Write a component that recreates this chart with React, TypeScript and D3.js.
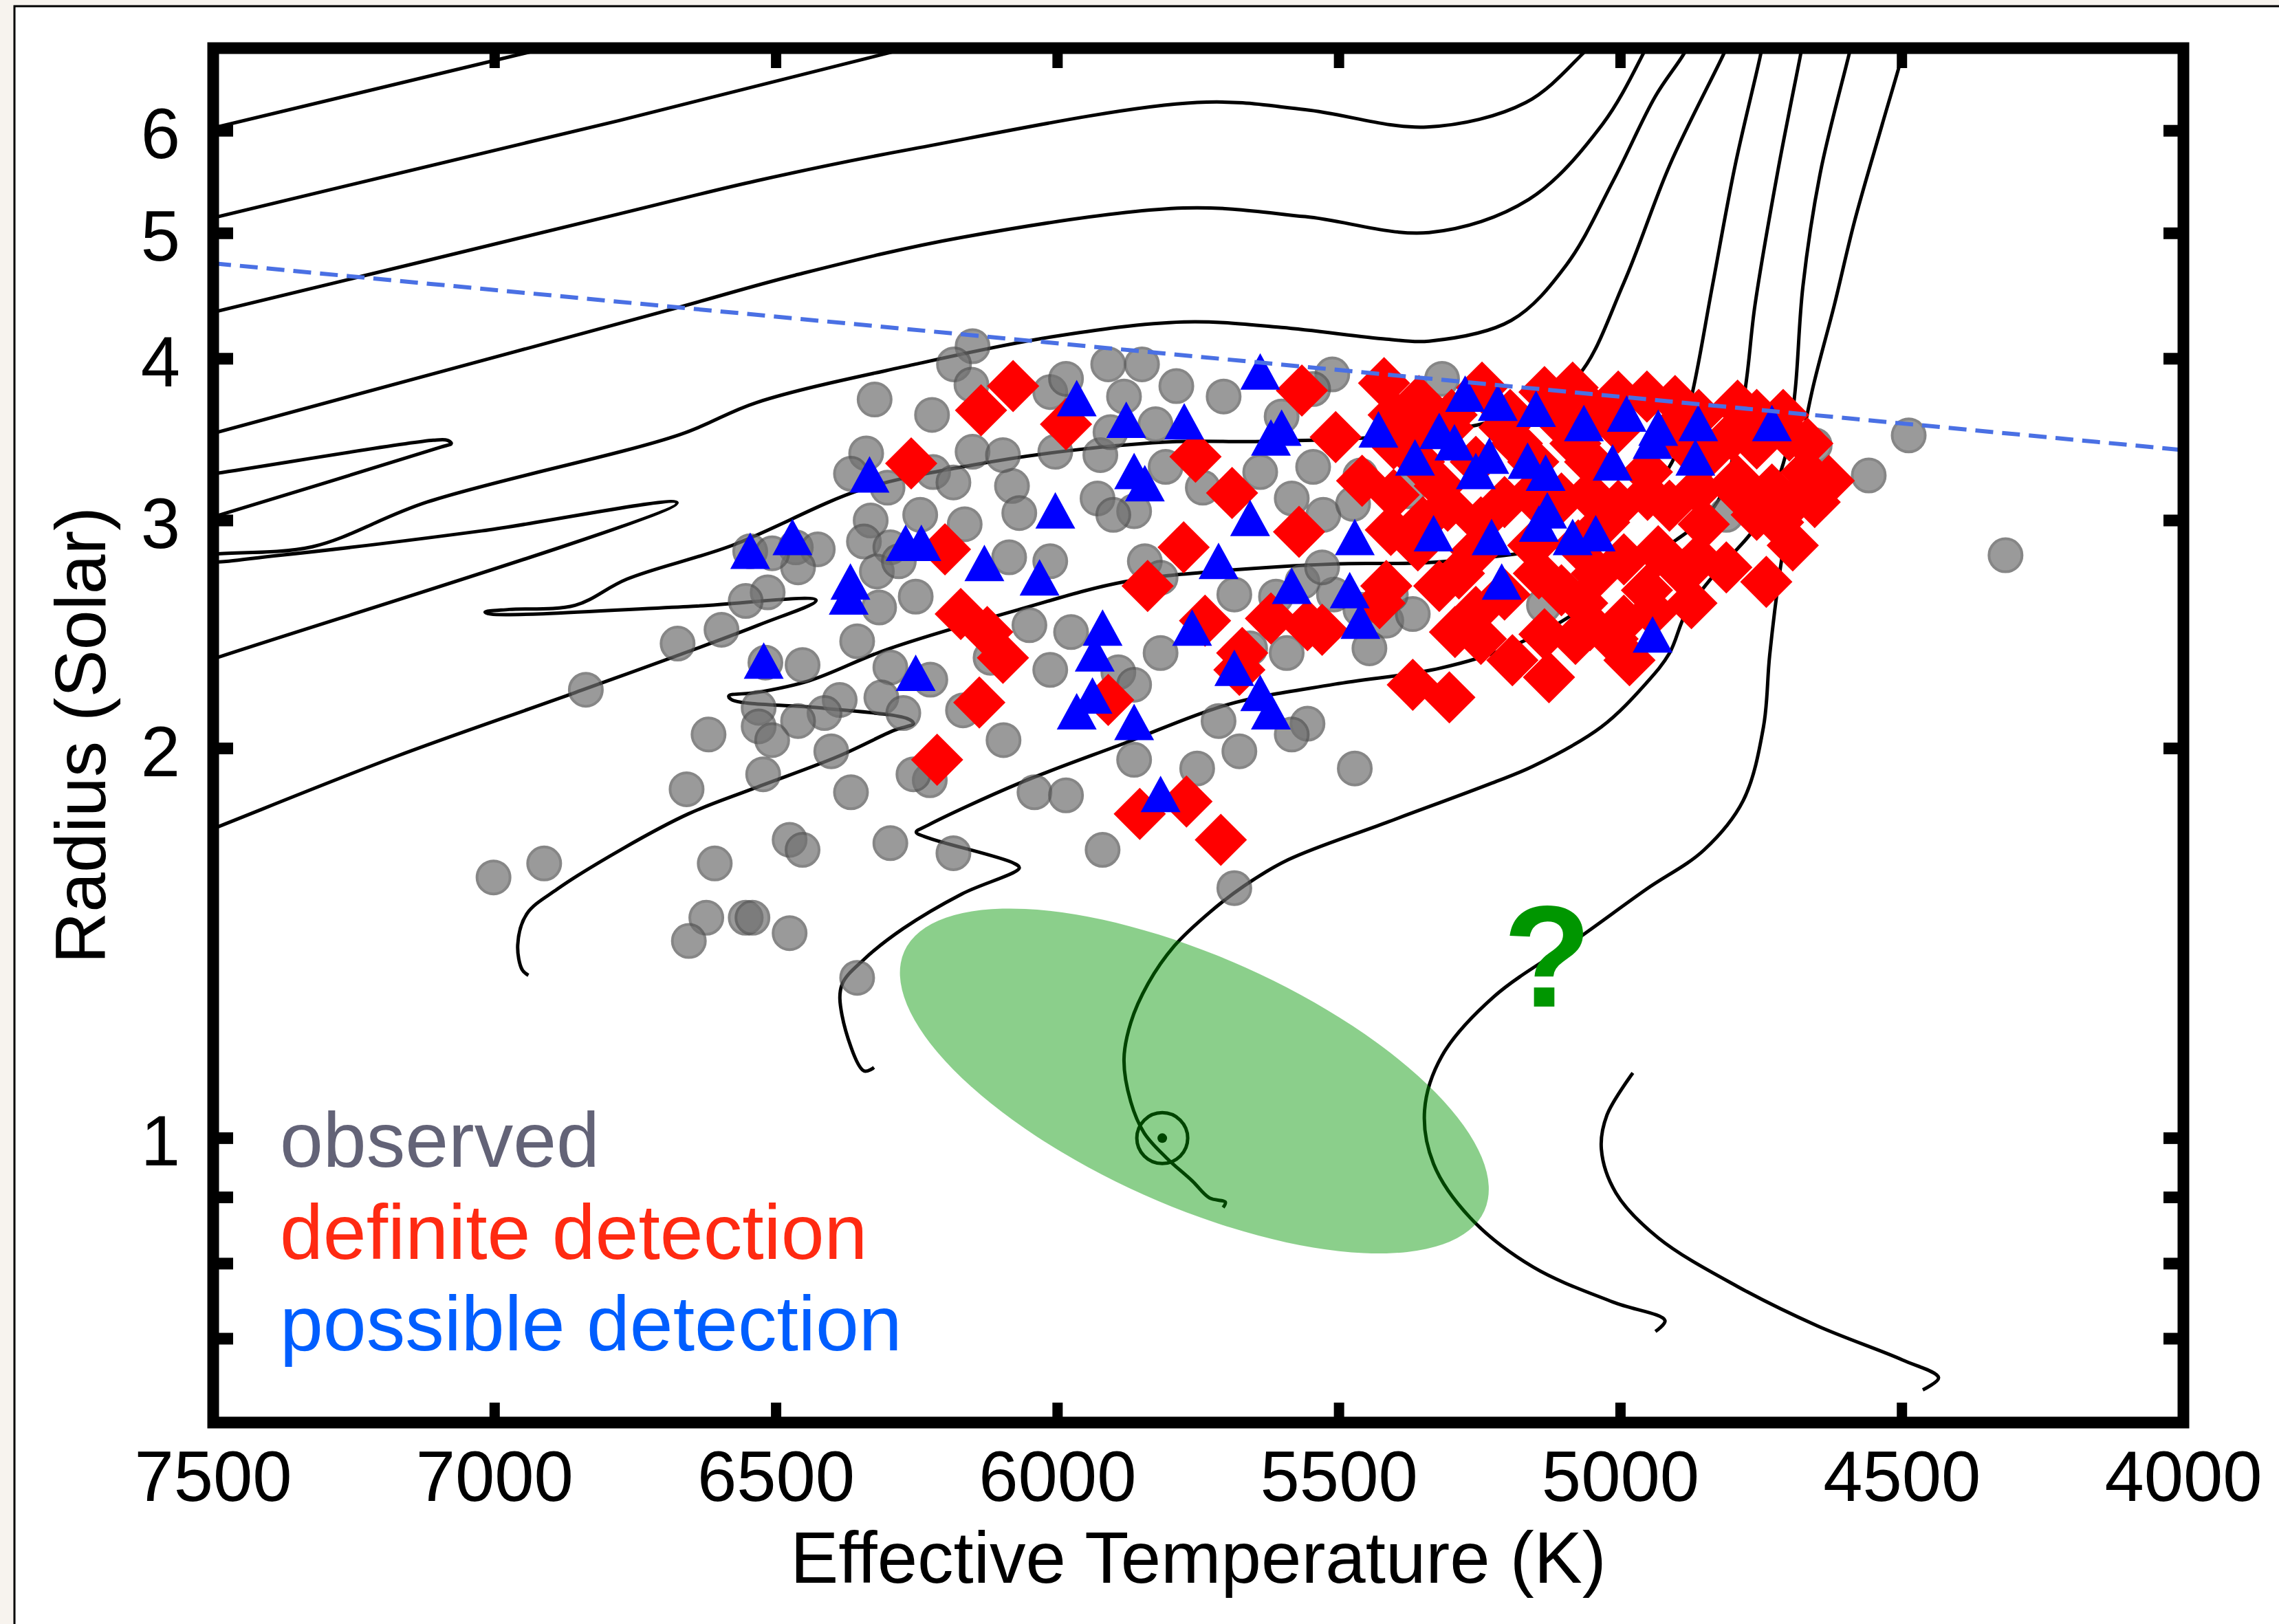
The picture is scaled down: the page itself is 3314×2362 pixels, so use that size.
import React from "react";
import * as d3 from "d3";

type Pt = [number, number];

// ---------- axes ----------
const xTickValues = [7000, 6500, 6000, 5500, 5000, 4500];
const xTickLabels = [7500, 7000, 6500, 6000, 5500, 5000, 4500, 4000];
const yTickValues = [0.7, 0.8, 0.9, 1, 2, 3, 4, 5, 6];
const yTickLabels = [1, 2, 3, 4, 5, 6];

// ---------- evolutionary tracks (Teff [K], Radius [Rsun]) ----------
const track1: Pt[] = [[7633, 5.84], [7500, 6.03], [6779, 7.17]];
const track2: Pt[] = [[7633, 4.98], [7500, 5.14], [6779, 6.11], [6255, 6.97], [6170, 7.12]];
const track3: Pt[] = [[7633, 4.21], [7500, 4.345], [6779, 5.175], [6535, 5.489], [6266, 5.8], [5752, 6.31], [5560, 6.23], [5344, 6.04], [5168, 6.31], [5063, 6.91], [5023, 7.21]];
const track4: Pt[] = [[7633, 3.377], [7500, 3.503], [6687, 4.366], [6466, 4.641], [6170, 4.964], [5776, 5.23], [5560, 5.15], [5340, 5.007], [5163, 5.31], [5032, 6.07], [4959, 6.89], [4938, 7.21]];
const track5: Pt[] = [[7633, 2.902], [7493, 3.025], [7096, 3.418], [7077, 3.44], [7084, 3.46], [7109, 3.46], [7493, 3.263], [7633, 3.196]];
const track6: Pt[] = [[7633, 2.242], [7500, 2.345], [6676, 3.096], [7023, 2.945], [7389, 2.818], [7511, 2.79], [7523, 2.811], [7499, 2.825], [7324, 2.863], [7120, 3.1], [6671, 3.495], [6535, 3.7], [6255, 3.959], [6013, 4.157], [5776, 4.271], [5602, 4.229], [5416, 4.142], [5340, 4.127], [5194, 4.282], [5096, 4.727], [5011, 5.51], [4938, 6.38], [4888, 6.873], [4865, 7.17]];
const track7: Pt[] = [[7633, 1.645], [7500, 1.734], [7176, 1.971], [6857, 2.209], [6532, 2.49], [6429, 2.603], [6657, 2.574], [7007, 2.54], [7017, 2.549], [6974, 2.561], [6857, 2.58], [6765, 2.703], [6578, 2.87], [6349, 3.169], [6162, 3.304], [5976, 3.398], [5789, 3.452], [5649, 3.452], [5438, 3.478], [5255, 3.555], [5155, 3.679], [5074, 3.887], [4994, 4.579], [4912, 5.651], [4817, 6.873], [4798, 7.17]];
const track8: Pt[] = [[6940, 1.336], [6951, 1.349], [6959, 1.41], [6943, 1.49], [6889, 1.557], [6772, 1.674], [6655, 1.781], [6538, 1.864], [6391, 1.971], [6291, 2.065], [6256, 2.091], [6267, 2.109], [6413, 2.148], [6578, 2.18], [6584, 2.196], [6535, 2.209], [6441, 2.256], [6302, 2.386], [6068, 2.561], [5882, 2.69], [5695, 2.746], [5508, 2.777], [5322, 2.787], [5096, 2.881], [4974, 3.062], [4901, 3.377], [4872, 3.77], [4837, 4.546], [4796, 5.651], [4751, 6.873], [4743, 7.17]];
const track9: Pt[] = [[6326, 1.134], [6344, 1.127], [6383, 1.245], [6383, 1.314], [6344, 1.374], [6274, 1.452], [6170, 1.544], [6068, 1.617], [6078, 1.631], [6228, 1.705], [6251, 1.723], [6230, 1.745], [6068, 1.88], [5882, 2.018], [5695, 2.164], [5508, 2.242], [5322, 2.306], [5194, 2.398], [5072, 2.561], [4994, 2.756], [4901, 2.898], [4828, 3.1], [4782, 3.71], [4761, 4.403], [4721, 5.569], [4680, 6.873], [4672, 7.17]];
const track10: Pt[] = [[5706, 0.884], [5702, 0.8925], [5730, 0.899], [5761, 0.927], [5807, 0.966], [5846, 1.009], [5870, 1.067], [5882, 1.15], [5870, 1.228], [5839, 1.317], [5793, 1.407], [5730, 1.494], [5668, 1.567], [5590, 1.641], [5416, 1.753], [5229, 1.88], [5155, 1.938], [5034, 2.078], [4954, 2.247], [4913, 2.369], [4883, 2.549], [4828, 2.743], [4755, 2.988], [4706, 3.377], [4690, 3.77], [4676, 4.546], [4645, 5.569], [4594, 6.873], [4584, 7.17]];
const track11: Pt[] = [[4938, 0.709], [4921, 0.723], [5013, 0.747], [5155, 0.795], [5267, 0.868], [5332, 0.955], [5348, 1.051], [5317, 1.158], [5226, 1.285], [5074, 1.428], [4954, 1.557], [4852, 1.669], [4782, 1.823], [4746, 2.078], [4735, 2.36], [4716, 2.756], [4690, 3.224], [4660, 3.77], [4620, 4.403], [4584, 5.112], [4535, 6.07], [4499, 6.873], [4489, 7.17]];
const track12: Pt[] = [[4463, 0.639], [4435, 0.653], [4499, 0.674], [4650, 0.716], [4792, 0.768], [4933, 0.8375], [5008, 0.907], [5034, 0.981], [5024, 1.042], [4978, 1.123]];
const straightTracks = [track1, track2];
const curvedTracks = [track3, track4, track5, track6, track7, track8, track9, track10, track11, track12];

// ---------- stars ----------
const observed: Pt[] = [
  [6325, 3.72], [6340, 3.38], [6367, 3.26], [6332, 3.0], [6344, 2.89], [6297, 2.86], [6321, 2.74], [6546, 2.84], [6465, 2.86], [6426, 2.85],
  [6461, 2.76], [6515, 2.64], [6554, 2.6], [6597, 2.47], [6675, 2.41], [6838, 2.22], [6356, 2.42], [6453, 2.32], [6519, 2.33], [6297, 2.31],
  [6313, 2.19], [6387, 2.18], [6414, 2.13], [6461, 2.1], [6531, 2.15], [6531, 2.08], [6507, 2.03], [6620, 2.05], [6402, 1.99], [6523, 1.91],
  [6659, 1.86], [6367, 1.85], [6476, 1.7], [6453, 1.67], [6609, 1.63], [6912, 1.63], [7002, 1.59], [6624, 1.48], [6655, 1.42], [6554, 1.48],
  [6542, 1.48], [6476, 1.44], [6356, 1.33], [6297, 1.69], [6317, 2.57], [6151, 4.09], [6184, 3.96], [6153, 3.82], [6223, 3.62], [6151, 3.39],
  [6221, 3.27], [6081, 3.19], [6068, 3.04], [6244, 3.03], [6165, 2.98], [6282, 2.79], [6252, 2.62], [6226, 2.26], [6274, 2.13], [6168, 2.14],
  [6096, 2.03], [6086, 2.81], [6119, 2.35], [6302, 3.18], [6185, 3.21], [6013, 3.77], [5985, 3.86], [5910, 3.96], [5850, 3.96], [5882, 3.74],
  [5789, 3.81], [5826, 3.56], [5705, 3.74], [5512, 3.89], [5546, 3.79], [5602, 3.61], [5640, 3.27], [5546, 3.3], [5584, 3.12], [5528, 3.03],
  [5462, 3.25], [5475, 3.09], [5378, 3.16], [6097, 3.37], [6004, 3.39], [5924, 3.37], [5906, 3.51], [5864, 3.05], [5808, 3.3], [5742, 3.18],
  [6013, 2.79], [5929, 3.12], [5901, 3.03], [5845, 2.79], [5817, 2.71], [5686, 2.63], [5612, 2.62], [5565, 2.69], [5509, 2.63], [5462, 2.56],
  [5416, 2.51], [5369, 2.54], [5136, 2.58], [6507, 2.83], [6050, 2.49], [5976, 2.46], [6013, 2.3], [5892, 2.29], [5864, 2.24], [5817, 2.37],
  [5658, 2.39], [5593, 2.37], [5446, 2.39], [5556, 2.09], [5584, 2.05], [5714, 2.1], [5677, 1.99], [5752, 1.93], [5864, 1.96], [6041, 1.85],
  [5985, 1.84], [6227, 1.89], [6256, 1.91], [6185, 1.66], [5920, 1.67], [5686, 1.56], [5472, 1.93], [5317, 3.86], [4655, 3.43], [4488, 3.49],
  [4559, 3.25], [4316, 2.82], [4812, 3.03], [5408, 2.63], [5065, 2.67], [5530, 2.76],
];

const definite: Pt[] = [
  [6260, 3.32], [6079, 3.81], [6136, 3.65], [5985, 3.56], [6200, 2.85], [6172, 2.54], [6125, 2.46], [6097, 2.35], [6139, 2.17], [6214, 1.96],
  [5910, 2.18], [5854, 1.78], [5771, 1.82], [5710, 1.7], [5755, 3.36], [5690, 3.15], [5776, 2.86], [5840, 2.67], [5738, 2.51], [5672, 2.37],
  [5677, 2.3], [5571, 2.94], [5566, 3.78], [5420, 3.83], [5506, 3.48], [5621, 2.52], [5556, 2.49], [5408, 2.95], [5416, 2.67], [5369, 2.24],
  [5304, 2.19], [5294, 2.46], [5192, 2.34], [5127, 2.27], [5360, 2.87], [5322, 2.67], [5350, 3.56], [5321, 3.19], [5358, 3.71], [5246, 3.8],
  [5135, 3.77], [5085, 3.8], [5004, 3.74], [4953, 3.74], [4903, 3.71], [4792, 3.68], [4711, 3.62], [4630, 3.22], [4731, 3.17], [4670, 3.27],
  [4792, 3.22], [4862, 3.17], [4913, 3.08], [4852, 2.98], [4812, 2.76], [4741, 2.69], [4862, 2.8], [4933, 2.84], [4994, 2.8], [4953, 2.65],
  [4994, 2.51], [5014, 2.43], [4943, 2.55], [5054, 2.49], [4984, 2.34], [5530, 2.47], [5358, 3.33], [5257, 3.33], [5155, 3.33], [5054, 3.33],
  [4953, 3.27], [4852, 3.35], [5307, 3.08], [5206, 3.1], [5105, 3.12], [5004, 3.08], [5257, 2.84], [5155, 2.87], [5075, 2.87], [5206, 2.63],
  [5105, 2.65], [5307, 3.54], [5206, 3.54], [5105, 3.57], [5004, 3.54], [4903, 3.54], [4802, 3.49], [4700, 3.49], [5459, 3.22], [5428, 2.59],
  [5257, 2.55], [5135, 2.45], [4758, 3.03],
  [5403, 3.62], [5300, 3.62], [5196, 3.62], [5042, 3.62], [4861, 3.62], [4758, 3.62],
  [5403, 3.44], [5184, 3.44], [5080, 3.44], [4887, 3.44], [4758, 3.44], [4668, 3.44],
  [5403, 3.14], [5158, 3.14], [5055, 3.14], [4952, 3.14], [4784, 3.14], [4681, 3.14],
  [5351, 2.99], [5248, 2.99], [5029, 2.99], [4720, 2.99],
  [5287, 2.73], [5145, 2.73], [5042, 2.73], [4887, 2.73],
  [5068, 2.59], [4874, 2.59], [5248, 2.43], [5080, 2.43], [4655, 3.1], [4694, 2.87],
];

const possible: Pt[] = [
  [6546, 2.82], [6471, 2.89], [6334, 3.23], [6368, 2.67], [6371, 2.6], [6270, 2.86], [6242, 2.86], [6130, 2.76], [6522, 2.32], [6252, 2.27],
  [5966, 3.7], [5878, 3.56], [5775, 3.55], [5640, 3.88], [5864, 3.25], [5845, 3.18], [6004, 3.03], [5621, 3.45], [5602, 3.51], [5658, 2.99],
  [6032, 2.69], [5714, 2.77], [5584, 2.65], [5920, 2.46], [5934, 2.35], [5761, 2.46], [5938, 2.18], [5966, 2.12], [5864, 2.08], [5686, 2.29],
  [5640, 2.19], [5621, 2.12], [5817, 1.83], [5430, 3.5], [5365, 3.33], [5472, 2.89], [5481, 2.63], [5462, 2.49], [5332, 2.91], [5229, 2.89],
  [5211, 2.67], [5276, 3.73], [5218, 3.67], [5150, 3.63], [5322, 3.49], [5295, 3.42], [5233, 3.34], [5165, 3.31], [5133, 3.24], [5065, 3.54],
  [4989, 3.6], [4933, 3.51], [4862, 3.54], [4731, 3.54], [5257, 3.25], [5014, 3.3], [4943, 3.43], [4867, 3.33], [5130, 3.03], [5145, 2.96],
  [5085, 2.89], [5044, 2.91], [4943, 2.43],
];

// ---------- annotations ----------
const detectionLimit: Pt[] = [[7500, 4.74], [4000, 3.4]];
const sunPoint: Pt = [5814, 1.0];
const ellipseCenter: Pt = [5757, 1.107];
const questionPoint: Pt = [5130, 1.263];
const legendItems = [
  { label: "observed", color: "#636377" },
  { label: "definite detection", color: "#ff2a12" },
  { label: "possible detection", color: "#005eff" },
];

const W = 3314, H = 2362;
const PL = 310, PR = 3175, PT = 70, PB = 2069;
const FONT = '"Liberation Sans", Arial, Helvetica, sans-serif';

export default function App() {
  const x = d3.scaleLinear().domain([7500, 4000]).range([PL, PR]);
  const y = d3.scaleLog().domain([0.603, 6.95]).range([PB, PT]);
  const curved = d3.line<Pt>().x((d) => x(d[0])).y((d) => y(d[1])).curve(d3.curveCatmullRom.alpha(0.5));
  const straight = d3.line<Pt>().x((d) => x(d[0])).y((d) => y(d[1]));
  const tickLen = 29;
  const diamond = "M0,-38L38,0L0,38L-38,0Z";
  const triangle = "M0,-33L29,20L-29,20Z";

  return (
    <svg width={W} height={H} viewBox={`0 0 ${W} ${H}`} style={{ position: "absolute", left: 0, top: 0, display: "block" }}>
      <rect x={0} y={0} width={W} height={H} fill="#f7f3ee" />
      <rect x={21} y={9} width={W + 50} height={H + 50} fill="#ffffff" stroke="#000" strokeWidth={3} />
      <defs>
        <clipPath id="plotArea">
          <rect x={PL} y={PT} width={PR - PL} height={PB - PT} />
        </clipPath>
      </defs>

      <g clipPath="url(#plotArea)">
        {straightTracks.map((t, i) => (
          <path key={"s" + i} d={straight(t) || ""} fill="none" stroke="#000" strokeWidth={5} />
        ))}
        {curvedTracks.map((t, i) => (
          <path key={"c" + i} d={curved(t) || ""} fill="none" stroke="#000" strokeWidth={5} strokeLinejoin="round" />
        ))}
        {/* Sun symbol */}
        <circle cx={x(sunPoint[0])} cy={y(sunPoint[1])} r={37} fill="none" stroke="#000" strokeWidth={5} />
        <circle cx={x(sunPoint[0])} cy={y(sunPoint[1])} r={7} fill="#000" />
        {/* uncertainty ellipse */}
        <ellipse
          cx={0}
          cy={0}
          rx={462}
          ry={181}
          fill="rgb(0,150,0)"
          fillOpacity={0.455}
          transform={`translate(${x(ellipseCenter[0])},${y(ellipseCenter[1])}) rotate(24.1)`}
        />
        {observed.map((d, i) => (
          <circle key={"o" + i} cx={x(d[0])} cy={y(d[1])} r={24} fill="#707070" stroke="#545454" strokeWidth={4} opacity={0.7} />
        ))}
        {definite.map((d, i) => (
          <path key={"d" + i} d={diamond} transform={`translate(${x(d[0])},${y(d[1])})`} fill="#ff0000" />
        ))}
        {possible.map((d, i) => (
          <path key={"p" + i} d={triangle} transform={`translate(${x(d[0])},${y(d[1])})`} fill="#0000ff" />
        ))}
        <path d={straight(detectionLimit) || ""} fill="none" stroke="#4a70e4" strokeWidth={6} strokeDasharray="26 13" />
      </g>

      <text
        x={x(questionPoint[0])}
        y={y(questionPoint[1])}
        textAnchor="middle"
        fontFamily={FONT}
        fontWeight="bold"
        fontSize={210}
        fill="#009600"
      >
        ?
      </text>

      {legendItems.map((it, i) => (
        <text key={it.label} x={407} y={1697 + i * 133.5} fontFamily={FONT} fontSize={113} fill={it.color}>
          {it.label}
        </text>
      ))}

      {/* frame */}
      <rect x={PL} y={PT} width={PR - PL} height={PB - PT} fill="none" stroke="#000" strokeWidth={17} />
      {xTickValues.map((v) => (
        <g key={"xt" + v}>
          <line x1={x(v)} x2={x(v)} y1={PB} y2={PB - tickLen} stroke="#000" strokeWidth={15} />
          <line x1={x(v)} x2={x(v)} y1={PT} y2={PT + tickLen} stroke="#000" strokeWidth={15} />
        </g>
      ))}
      {yTickValues.map((v) => (
        <g key={"yt" + v}>
          <line x1={PL} x2={PL + tickLen} y1={y(v)} y2={y(v)} stroke="#000" strokeWidth={17} />
          <line x1={PR} x2={PR - tickLen} y1={y(v)} y2={y(v)} stroke="#000" strokeWidth={17} />
        </g>
      ))}
      {xTickLabels.map((v) => (
        <text key={"xl" + v} x={x(v)} y={2183} textAnchor="middle" fontFamily={FONT} fontSize={103} fill="#000">
          {v}
        </text>
      ))}
      {yTickLabels.map((v) => (
        <text key={"yl" + v} x={262} y={y(v) + 40} textAnchor="end" fontFamily={FONT} fontSize={103} fill="#000">
          {v}
        </text>
      ))}
      <text x={(PL + PR) / 2} y={2302} textAnchor="middle" fontFamily={FONT} fontSize={105} fill="#000">
        Effective Temperature (K)
      </text>
      <text
        transform={`translate(153,${(PT + PB) / 2}) rotate(-90)`}
        textAnchor="middle"
        fontFamily={FONT}
        fontSize={104}
        fill="#000"
      >
        Radius (Solar)
      </text>
    </svg>
  );
}
